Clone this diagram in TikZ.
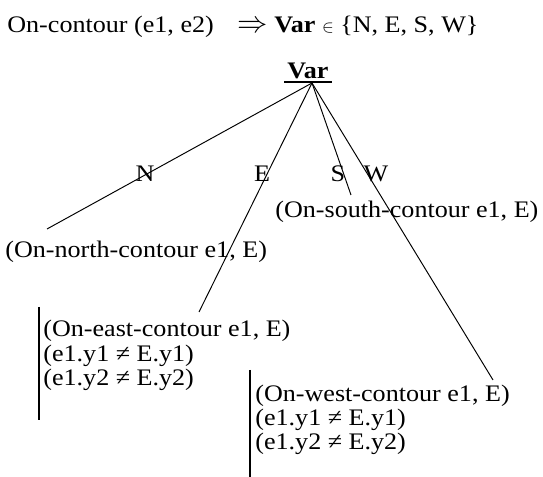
\documentclass[tikz,border=0pt]{standalone}
\usepackage{fontspec}
\setmainfont{Liberation Serif}[FakeStretch=1.1]

\begin{document}
\begin{tikzpicture}[x=1cm,y=1cm,font=\fontsize{13.5}{16}\selectfont,
    txt/.style={inner sep=0pt,anchor=base west},
    branch/.style={line width=0.55pt},
    bar/.style={line width=1.1pt}]
    \useasboundingbox (0,0) rectangle (10.86,9.54);
    \node[txt] (head) at (0.14,8.88) {On-contour (e1, e2)\quad{\fontsize{17}{17}\selectfont$\Rightarrow$} \textbf{Var} {\fontsize{10}{10}\selectfont$\in$} \{N, E, S, W\}};

    \node[inner sep=0pt,anchor=base,font=\fontsize{13.5}{16}\selectfont\bfseries] (var) at (6.16,7.96) {Var};
    \draw[line width=1.1pt] ([xshift=-1.5pt,yshift=-1.8pt]var.base west) -- ([xshift=1.5pt,yshift=-1.8pt]var.base east);
    \coordinate (top) at (6.24,7.88);

    % leaves
    \node[txt] (north) at (0.1,4.38) {(On-north-contour e1, E)};
    \node[txt] (south) at (5.5,5.18) {(On-south-contour e1, E)};
    \node[txt] (east1) at (0.86,2.8) {(On-east-contour e1, E)};
    \node[txt] (east2) at (0.86,2.3) {(e1.y1 ≠ E.y1)};
    \node[txt] (east3) at (0.86,1.82) {(e1.y2 ≠ E.y2)};
    \node[txt] (west1) at (5.1,1.5) {(On-west-contour e1, E)};
    \node[txt] (west2) at (5.1,1.02) {(e1.y1 ≠ E.y1)};
    \node[txt] (west3) at (5.1,0.54) {(e1.y2 ≠ E.y2)};
    \draw[bar] (0.78,3.4) -- (0.78,1.14);
    \draw[bar] (5.0,2.14) -- (5.0,0);

    % branches
    \foreach \lbl/\lx/\ex/\ey in {N/2.9/0.94/4.96,E/5.24/3.98/3.3,S/6.76/7.02/5.64,W/7.52/9.86/1.94} {
      \node[inner sep=0pt,anchor=base] (lab\lbl) at (\lx,5.9) {\lbl};
      \coordinate (end\lbl) at (\ex,\ey);
      \draw[branch] (top) -- (end\lbl);
    }
  \end{tikzpicture}
\end{document}
